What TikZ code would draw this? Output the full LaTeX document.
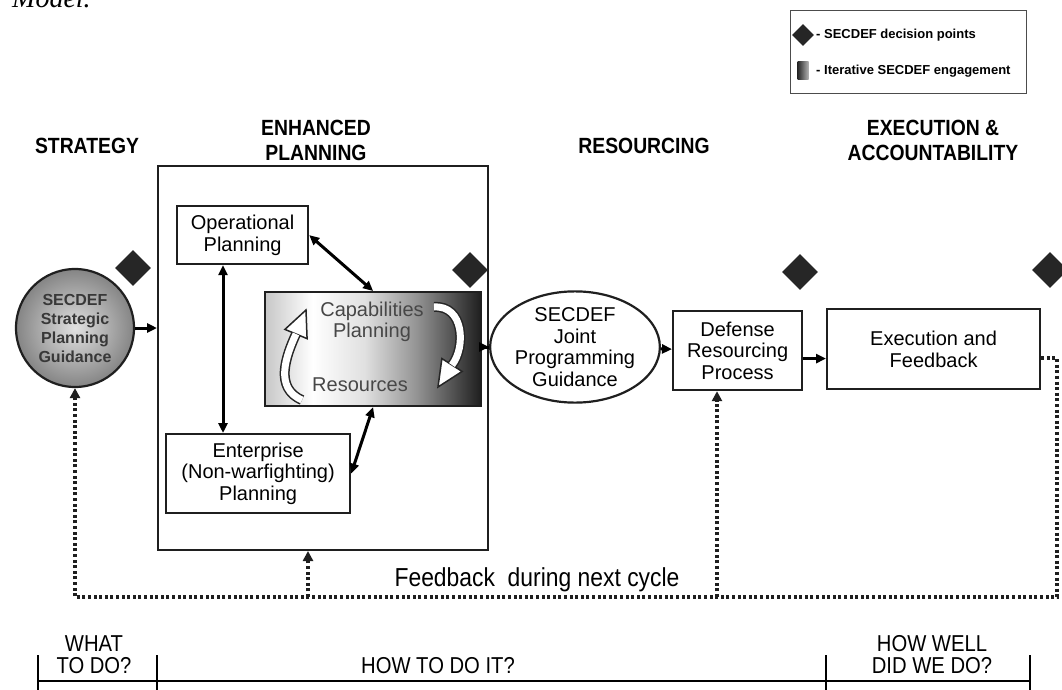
\documentclass[tikz,border=0pt]{standalone}
\usepackage{fontspec}
\setmainfont{Liberation Sans}
\newfontfamily\condfont[FakeStretch=0.88]{Liberation Sans}
\newfontfamily\serifit{Liberation Serif}
\usetikzlibrary{arrows.meta,calc,shapes.geometric}

% shading of the capabilities block: light on the left, dark on the right
\pgfdeclarehorizontalshading{capshade}{100bp}{%
  color(0bp)=(black!22); color(25bp)=(black!22); color(36bp)=(white);
  color(48bp)=(black!12); color(60bp)=(black!42); color(75bp)=(black!88);
  color(100bp)=(black!88)}
\pgfdeclarehorizontalshading{legshade}{100bp}{%
  color(0bp)=(black!85); color(25bp)=(black!85); color(75bp)=(black!30);
  color(100bp)=(black!30)}

\newcommand{\fsz}[2]{\fontsize{#1}{#2}\selectfont}

\begin{document}
\begin{tikzpicture}[x=1pt,y=-1pt,
  box/.style={draw=black!88, line width=2.2pt, fill=white, align=center,
    inner sep=0pt, font=\fsz{20}{21.5}},
  dpoint/.style={diamond, fill=black!85, inner sep=0pt,
    minimum width=36pt, minimum height=36pt},
  solidlink/.style={line width=3pt, -{Triangle[length=10pt,width=9pt]}},
  duallink/.style={line width=3pt,
    {Triangle[length=10pt,width=9pt]}-{Triangle[length=10pt,width=9pt]}},
  fbline/.style={line width=3.6pt, dash pattern=on 3pt off 2.6pt, black!88},
  fbarrow/.style={fbline, -{Triangle[length=10pt,width=10pt]}},
  phase/.style={font=\condfont\bfseries\fsz{22}{25}, align=center},
  ruler/.style={font=\condfont\fsz{23}{22}, align=center},
  legtext/.style={font=\bfseries\fsz{13}{15}, anchor=west, inner sep=0pt},
  bandout/.style={line width=10pt, black!85},
  bandin/.style={line width=7pt, white},
  headout/.style={fill=white, draw=black!85, line width=1.5pt, line join=miter},
]
\useasboundingbox (0,0) rectangle (1062,690);
\clip (0,0) rectangle (1062,690);

% caption fragment at the top edge
\node[font=\serifit\itshape\fsz{28}{30}, anchor=base west, inner sep=0pt]
  (title) at (12,8) {Model.};

% legend
\node[draw=black!70, line width=1pt, minimum width=236pt, minimum height=83pt,
  anchor=north west, inner sep=0pt] (legend) at (790,10) {};
\node[dpoint, minimum width=22pt, minimum height=22pt] (legdp) at (803,35) {};
\node[legtext] (legdptxt) at (816,35) {- SECDEF decision points};
\node[minimum width=11pt, minimum height=18pt, inner sep=0pt, shade,
  shading=legshade] (legsh) at (803,71) {};
\node[legtext] (legshtxt) at (816,71) {- Iterative SECDEF engagement};

% phase headings
\node[phase] (hstrat) at (87,146) {STRATEGY};
\node[phase] (hplan) at (316,140) {ENHANCED\\PLANNING};
\node[phase] (hres) at (644,146) {RESOURCING};
\node[phase] (hexec) at (933,140) {EXECUTION \&\\ACCOUNTABILITY};

% enhanced planning frame
\node[draw=black!88, line width=2pt, minimum width=330pt, minimum height=384pt,
  anchor=north west, inner sep=0pt] (ep) at (157,165) {};

% strategic guidance
\node[circle, draw=black!88, line width=2.2pt, minimum size=118pt, inner sep=0pt,
  shading=radial, inner color=black!12, outer color=black!48,
  font=\bfseries\fsz{16}{19}, text=black!78, align=center]
  (sg) at (75,328) {SECDEF\\Strategic\\Planning\\Guidance};

% planning blocks
\node[box, minimum width=131pt, minimum height=58pt, anchor=north west]
  (op) at (176,205) {Operational\\Planning};
\node[draw=black!88, line width=2.2pt, minimum width=216pt, minimum height=114pt,
  anchor=north west, inner sep=0pt, shade, shading=capshade] (cap) at (264,291) {};
\node[font=\fsz{20}{21.5}, text=black!72, align=center] (captxt) at (372,322)
  {Capabilities\\Planning};
\node[font=\fsz{20}{21.5}, text=black!72] (restxt) at (360,385) {Resources};
\node[box, minimum width=184pt, minimum height=79pt, anchor=north west]
  (ent) at (165,433) {Enterprise\\(Non-warfighting)\\Planning};

% cycle arrows inside the capabilities block
\coordinate (lb) at (296,334);
\coordinate (lt) at (306,310);
\draw[headout] ($(lb)!12pt!90:(lt)$) -- (lt) -- ($(lb)!12pt!-90:(lt)$) -- cycle;
\draw[bandout] (302,400) .. controls (274,388) and (286,356) .. (lb);
\draw[bandin] (302,400) .. controls (274,388) and (286,356) .. (lb);
\coordinate (rb) at (452,365);
\coordinate (rt) at (438,387);
\draw[headout] ($(rb)!12pt!90:(rt)$) -- (rt) -- ($(rb)!12pt!-90:(rt)$) -- cycle;
\draw[bandout] (434,307) .. controls (464,305) and (466,347) .. (rb);
\draw[bandin] (434,307) .. controls (464,305) and (466,347) .. (rb);

% resourcing and execution blocks
\node[ellipse, draw=black!88, line width=2.2pt, minimum width=134pt,
  minimum height=110pt, inner sep=0pt, align=center, font=\fsz{20}{21.5}]
  (jpg) at (575,347) {SECDEF\\Joint\\Programming\\Guidance};
\node[box, minimum width=129pt, minimum height=79pt, anchor=north west]
  (drp) at (672,310) {Defense\\Resourcing\\Process};
\node[box, minimum width=213pt, minimum height=80pt, anchor=north west]
  (ef) at (826,308) {Execution and\\Feedback};

% decision points
\node[dpoint] (d1) at (133,268) {};
\node[dpoint] (d2) at (470,270) {};
\node[dpoint] (d3) at (800,272) {};
\node[dpoint] (d4) at (1050,270) {};

% main flow
\coordinate (vx) at (223,0);
\draw[solidlink] (sg.east) -- (sg.east -| ep.west);
\draw[duallink] (op.south -| vx) -- (ent.north -| vx);
\draw[duallink] (op.east) -- (cap.north);
\draw[duallink] (ent.east) -- (cap.south);
\draw[solidlink] (ep.east |- jpg.west) -- (jpg.west);
\draw[solidlink] (jpg) -- (drp);
\draw[solidlink] ($(drp.east)+(0,8)$) -- ($(ef.west)+(0,9.5)$);

% feedback loop
\coordinate (fbR) at (1057,597);
\coordinate (fbL) at (75,597);
\coordinate (fbA) at (308,597);
\coordinate (fbB) at (717,597);
\draw[fbarrow] ($(ef.east)+(0,9)$) -| (fbR) -- (fbL) -- (sg.south);
\draw[fbarrow] (fbA) -- (fbA |- ep.south);
\draw[fbarrow] (fbB) -- (fbB |- drp.south);
\node[font=\condfont\fsz{26}{28}] (fbtxt) at (537,580) {Feedback\ \ during next cycle};

% question ruler
\coordinate (t1) at (38,655);
\coordinate (t2) at (157,655);
\coordinate (t3) at (826,655);
\coordinate (t4) at (1030,655);
\foreach \t in {t1,t2,t3,t4} \draw[line width=1.8pt] (\t) -- ++(0,40);
\draw[line width=2.6pt] (t1 |- 0,681) -- (t4 |- 0,681);
\node[ruler] (q1) at (94,655) {WHAT\\TO DO?};
\node[ruler] (q2) at (438,666) {HOW TO DO IT?};
\node[ruler] (q3) at (932,655) {HOW WELL\\DID WE DO?};
\end{tikzpicture}
\end{document}
